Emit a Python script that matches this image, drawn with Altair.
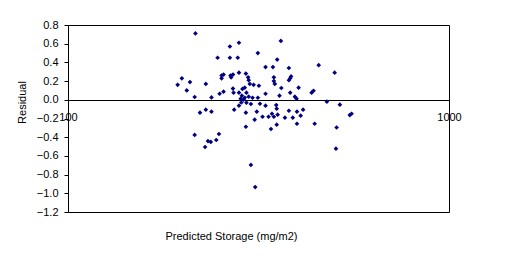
import altair as alt
import pandas as pd

# Predicted storage (mg/m2), log scale
predicted = [
    216, 266, 281, 362, 315, 247, 266, 279, 354, 330,
    345, 380, 455, 501, 267, 271, 268, 281, 293, 297,
    347, 347, 349, 385, 383, 380, 199, 209, 194, 230,
    253, 256, 253, 298, 300, 307, 317, 205, 215, 238,
    250, 256, 272, 271, 291, 287, 281, 294, 330, 363,
    383, 403, 286, 291, 298, 305, 315, 284, 289, 359,
    394, 398, 436, 441, 478, 517, 294, 319, 330, 281,
    285, 302, 352, 273, 313, 353, 343, 347, 355, 293,
    336, 324, 309, 380, 371, 293, 353, 341, 399, 414,
    408, 399, 444, 507, 549, 555, 505, 222, 230, 238,
    215, 249, 233, 237, 245, 229, 302, 310, 389,
]
residual = [
    0.71, 0.57, 0.61, 0.63, 0.50, 0.45, 0.45, 0.45, 0.43, 0.35,
    0.35, 0.34, 0.37, 0.29, 0.26, 0.27, 0.24, 0.29, 0.28, 0.24,
    0.24, 0.20, 0.17, 0.25, 0.23, 0.21, 0.23, 0.19, 0.16, 0.17,
    0.26, 0.27, 0.23, 0.21, 0.17, 0.16, 0.15, 0.10, 0.03, 0.025,
    0.065, 0.087, 0.076, 0.12, 0.13, 0.116, 0.076, 0.076, 0.065, 0.126,
    0.076, 0.13, 0.044, 0.022, 0.033, 0.022, 0.022, 0.012, 0.001, 0.044,
    0.033, 0.012, 0.076, 0.097, -0.02, -0.052, -0.031, -0.042, -0.063, -0.063,
    -0.029, -0.045, -0.056, -0.106, -0.127, -0.095, -0.149, -0.181, -0.159, -0.138,
    -0.181, -0.181, -0.213, -0.117, -0.191, -0.288, -0.266, -0.312, -0.127, -0.106,
    -0.17, -0.256, -0.256, -0.296, -0.163, -0.149, -0.523, -0.138, -0.106, -0.127,
    -0.376, -0.366, -0.441, -0.451, -0.43, -0.505, -0.697, -0.933, -0.191,
]
y_ticks = [-1.2, -1.0, -0.8, -0.6, -0.4, -0.2, 0.0, 0.2, 0.4, 0.6, 0.8]
x_ticks = [100, 1000]

df = pd.DataFrame({"Predicted": predicted, "Residual": residual})

FONT = "Liberation Sans"
xscale = alt.Scale(type="log", domain=[100, 1000], nice=False)
yscale = alt.Scale(domain=[-1.2, 0.8], nice=False, zero=False)

points = alt.Chart(df).mark_point(
    shape="diamond", filled=True, color="#000080", size=22, opacity=1
).encode(
    x=alt.X(
        "Predicted:Q", scale=xscale,
        axis=alt.Axis(
            values=x_ticks, format="d", orient="bottom", offset=-112,
            grid=False, tickSize=0, labelPadding=11,
            domainColor="black", domainWidth=1,
            labelFont=FONT, labelFontSize=11, labelColor="black",
            labelFlush=False, labelOverlap=False,
            title="Predicted Storage (mg/m2)", titleFont=FONT,
            titleFontSize=11, titleFontWeight="normal", titleColor="black",
            titleX=163, titleY=136, titleBaseline="middle",
            titleAnchor="start", titleAlign="center",
        ),
    ),
    y=alt.Y(
        "Residual:Q", scale=yscale,
        axis=alt.Axis(
            values=y_ticks, format=".1f", grid=False,
            tickSize=4, tickColor="black", labelPadding=6,
            domainColor="black", labelFont=FONT, labelFontSize=11,
            labelColor="black", labelOverlap=False,
            title="Residual", titleFont=FONT, titleFontSize=11,
            titleFontWeight="normal", titleColor="black",
            titleX=-46, titleY=77, titleAngle=-90,
            titleAlign="center", titleBaseline="middle",
        ),
    ),
)

frame = alt.Chart(df).mark_point(opacity=0).encode(
    x=alt.X("Predicted:Q", scale=xscale,
            axis=alt.Axis(orient="top", labels=False, ticks=False, grid=False,
                          title=None, domainColor="black", values=x_ticks)),
    y=alt.Y("Residual:Q", scale=yscale,
            axis=alt.Axis(orient="right", labels=False, ticks=False, grid=False,
                          title=None, domainColor="black", values=y_ticks)),
)
bottom = alt.Chart(df).mark_point(opacity=0).encode(
    x=alt.X("Predicted:Q", scale=xscale,
            axis=alt.Axis(orient="bottom", labels=False, ticks=False, grid=False,
                          title=None, domainColor="black", values=x_ticks)),
    y=alt.Y("Residual:Q", scale=yscale, axis=None),
)

chart = alt.layer(frame, bottom, points).resolve_axis(
    x="independent", y="independent"
).properties(
    width=381, height=187,
    autosize=alt.AutoSizeParams(type="none"),
    padding={"left": 68, "top": 25, "right": 62, "bottom": 45},
).configure_view(
    stroke=None
).configure(background="white")

chart.save("out.html", embed_options={"renderer": "svg", "actions": False})
